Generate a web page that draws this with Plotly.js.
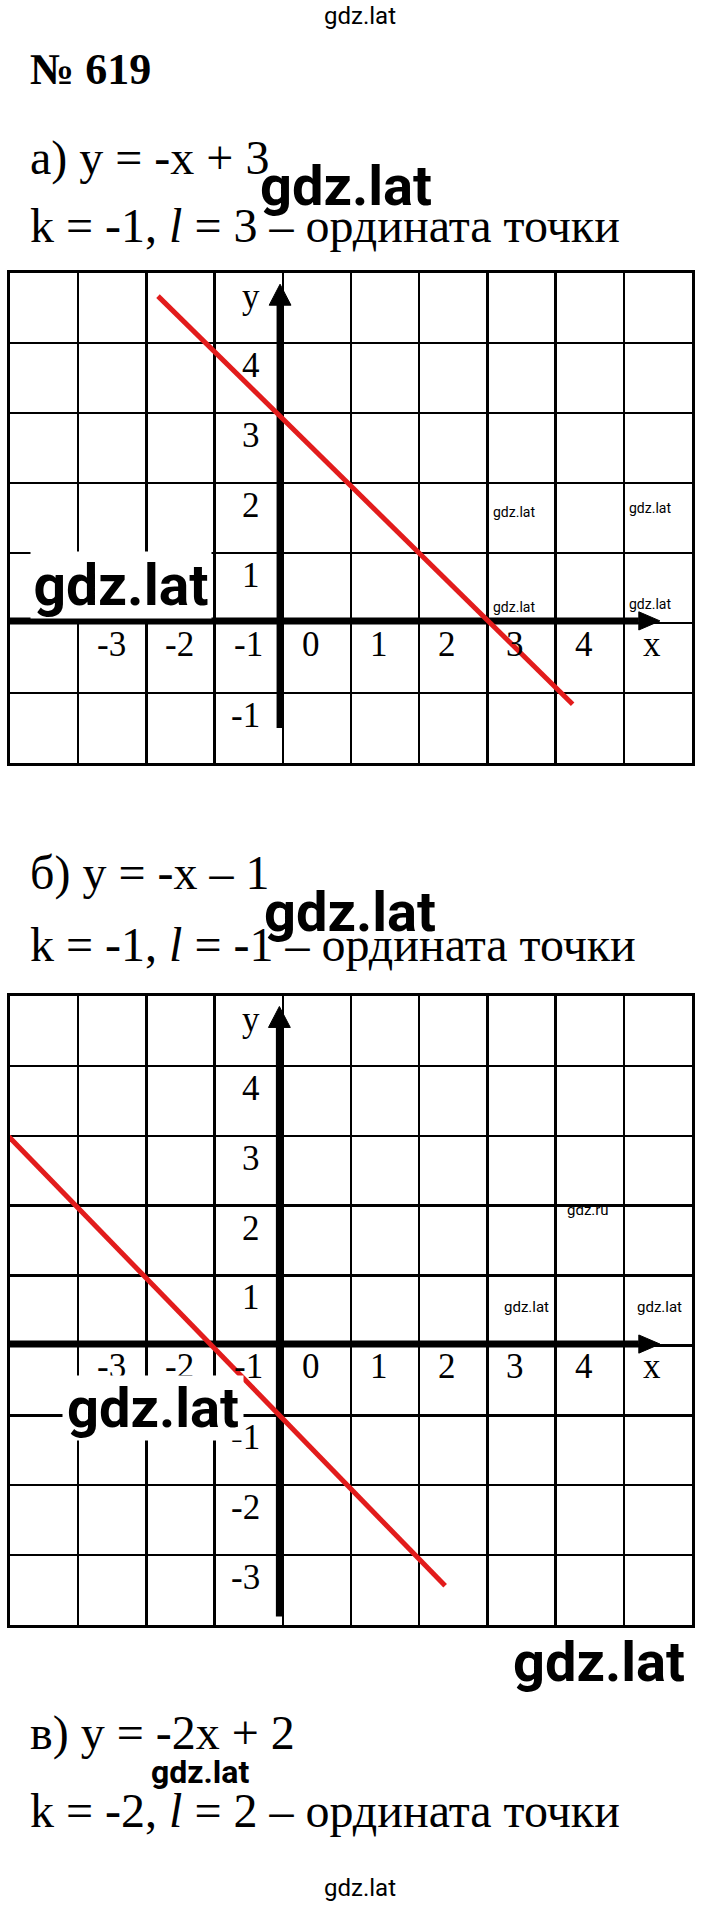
<!DOCTYPE html>
<html>
<head>
<meta charset="utf-8">
<script src="https://cdn.plot.ly/plotly-3.0.1.min.js"></script>
<style>html,body{margin:0;padding:0;background:#fff;}#chart{width:720px;height:1908px;}</style>
</head>
<body>
<div id="chart"></div>
<script>
// ---- data ----
const xTickLabels = ['-3','-2','-1','0','1','2','3','4'];
const xTickVals = [-3,-2,-1,0,1,2,3,4];
const yTickLabelsA = ['4','3','2','1','-1'];
const yTickValsA = [4,3,2,1,-1];
const yTickLabelsB = ['4','3','2','1','-1','-2','-3'];
const yTickValsB = [4,3,2,1,-1,-2,-3];

// red graph lines (endpoints)
const lineAX = [-1.83, 4.25];
const lineAY = [4.67, -1.16];
const lineBX = [-4.03, 2.38];
const lineBY = [3.0, -3.44];

// coordinate axes drawn inside each grid
const axisAxX = [-4, 5.22], axisAxY = [0.03, 0.03];
const axisAyX = [-0.04, -0.04], axisAyY = [-1.5, 4.55];
const arrowAxX = [5.22, 5.53, 5.22, 5.22], arrowAxY = [0.16, 0.03, -0.10, 0.16];
const arrowAyX = [-0.20, -0.04, 0.12, -0.20], arrowAyY = [4.54, 4.84, 4.54, 4.54];

const axisBxX = [-4, 5.22], axisBxY = [0.02, 0.02];
const axisByX = [-0.05, -0.05], axisByY = [-3.88, 4.56];
const arrowBxX = [5.22, 5.53, 5.22, 5.22], arrowBxY = [0.15, 0.02, -0.11, 0.15];
const arrowByX = [-0.21, -0.05, 0.11, -0.21], arrowByY = [4.55, 4.85, 4.55, 4.55];

const titleNum = '№ 619';
const eqA = 'а) y = -x + 3';
const kA = 'k = -1, <i>l</i> = 3 – ордината точки';
const eqB = 'б) y = -x – 1';
const kB = 'k = -1, <i>l</i> = -1 – ордината точки';
const eqC = 'в) y = -2x + 2';
const kC = 'k = -2, <i>l</i> = 2 – ордината точки';

// ---- helpers ----
const W = 720, H = 1908;
const px = v => v / W;
const py = v => 1 - v / H;
const SERIF = 'Liberation Serif';
const SANS = 'Roboto';
const TICK = 35;
const BODY = 48;

const traces = [];
function line(x, y, xa, ya, color, width) {
  traces.push({x, y, xaxis: xa, yaxis: ya, type: 'scatter', mode: 'lines',
    line: {color, width}, hoverinfo: 'skip', showlegend: false});
}
function tri(x, y, xa, ya) {
  traces.push({x, y, xaxis: xa, yaxis: ya, type: 'scatter', mode: 'lines', fill: 'toself',
    fillcolor: '#000', line: {color: '#000', width: 1}, hoverinfo: 'skip', showlegend: false});
}
line(axisAxX, axisAxY, 'x', 'y', '#000', 7);
line(axisAyX, axisAyY, 'x', 'y', '#000', 7);
tri(arrowAxX, arrowAxY, 'x', 'y');
tri(arrowAyX, arrowAyY, 'x', 'y');
line(lineAX, lineAY, 'x', 'y', 'rgb(226,28,28)', 5);

line(axisBxX, axisBxY, 'x2', 'y2', '#000', 7);
line(axisByX, axisByY, 'x2', 'y2', '#000', 7);
tri(arrowBxX, arrowBxY, 'x2', 'y2');
tri(arrowByX, arrowByY, 'x2', 'y2');
line(lineBX, lineBY, 'x2', 'y2', 'rgb(226,28,28)', 5);

const ann = [];
function txt(text, x, y, size, opts) {
  ann.push(Object.assign({text, x: px(x), y: py(y), xref: 'paper', yref: 'paper',
    showarrow: false, xanchor: 'left', yanchor: 'middle',
    font: {family: SERIF, size, color: '#000'}}, opts || {}));
}
function wm(text, x, y, size, bold, opts) {
  ann.push(Object.assign({text: bold ? '<b>' + text + '</b>' : text, x: px(x), y: py(y),
    xref: 'paper', yref: 'paper', showarrow: false, xanchor: 'center', yanchor: 'middle',
    font: {family: SANS, size, color: '#000'}}, opts || {}));
}
function ticks(xa, ya, yLabels, yVals) {
  xTickLabels.forEach((t, i) => ann.push({text: t, x: xTickVals[i] + 0.25, y: -0.3, xref: xa, yref: ya,
    showarrow: false, xanchor: 'left', yanchor: 'middle', font: {family: SERIF, size: TICK, color: '#000'}}));
  ann.push({text: 'x', x: 5.25, y: -0.3, xref: xa, yref: ya, showarrow: false, xanchor: 'left',
    yanchor: 'middle', font: {family: SERIF, size: TICK, color: '#000'}});
  yLabels.forEach((t, i) => ann.push({text: t, x: -0.3, y: yVals[i] - 0.32, xref: xa, yref: ya,
    showarrow: false, xanchor: 'right', yanchor: 'middle', font: {family: SERIF, size: TICK, color: '#000'}}));
  ann.push({text: 'y', x: -0.3, y: 4.66, xref: xa, yref: ya, showarrow: false, xanchor: 'right',
    yanchor: 'middle', font: {family: SERIF, size: TICK, color: '#000'}});
}
ticks('x', 'y', yTickLabelsA, yTickValsA);
ticks('x2', 'y2', yTickLabelsB, yTickValsB);

wm('gdz.lat', 360, 16, 24, false);
txt('<b>' + titleNum + '</b>', 28, 69, 44);
txt(eqA, 28, 158, BODY);
txt(kA, 28, 225, BODY);
wm('gdz.lat', 346, 186, 56, true);

// grid watermarks A
wm('gdz.lat', 514, 512, 14, false);
wm('gdz.lat', 650, 508, 14, false);
wm('gdz.lat', 514, 607, 14, false);
wm('gdz.lat', 650, 604, 14, false);
wm('gdz.lat', 121, 585, 57, true, {bgcolor: '#fff', width: 178, height: 64});

txt(eqB, 28, 873, BODY);
txt(kB, 28, 945, BODY);
wm('gdz.lat', 350, 912, 56, true);

wm('gdz.ru', 588, 1210, 15, false);
wm('gdz.lat', 526, 1307, 15, false);
wm('gdz.lat', 659, 1307, 15, false);
wm('gdz.lat', 153, 1408, 56, true, {bgcolor: '#fff', width: 178, height: 62});

wm('gdz.lat', 599, 1662, 56, true);
txt(eqC, 28, 1733, BODY);
wm('gdz.lat', 200, 1772, 32, true);
txt(kC, 28, 1810, BODY);
wm('gdz.lat', 360, 1888, 24, false);

const gridAxis = (domain, range) => ({domain, range, dtick: 1, tick0: 0, showgrid: true,
  gridcolor: '#000', gridwidth: 2.5, zeroline: false, showticklabels: false, ticks: '',
  showline: true, mirror: true, linecolor: '#000', linewidth: 3, fixedrange: true});

const layout = {
  width: W, height: H, margin: {l: 0, r: 0, t: 0, b: 0},
  paper_bgcolor: '#fff', plot_bgcolor: '#fff', showlegend: false,
  xaxis: Object.assign(gridAxis([px(10), px(692)], [-4, 6]), {anchor: 'y'}),
  yaxis: Object.assign(gridAxis([py(763), py(273)], [-2, 5]), {anchor: 'x'}),
  xaxis2: Object.assign(gridAxis([px(10), px(692)], [-4, 6]), {anchor: 'y2'}),
  yaxis2: Object.assign(gridAxis([py(1625), py(996)], [-4, 5]), {anchor: 'x2'}),
  annotations: ann
};
Plotly.newPlot('chart', traces, layout, {staticPlot: true, displayModeBar: false});
</script>
</body>
</html>
